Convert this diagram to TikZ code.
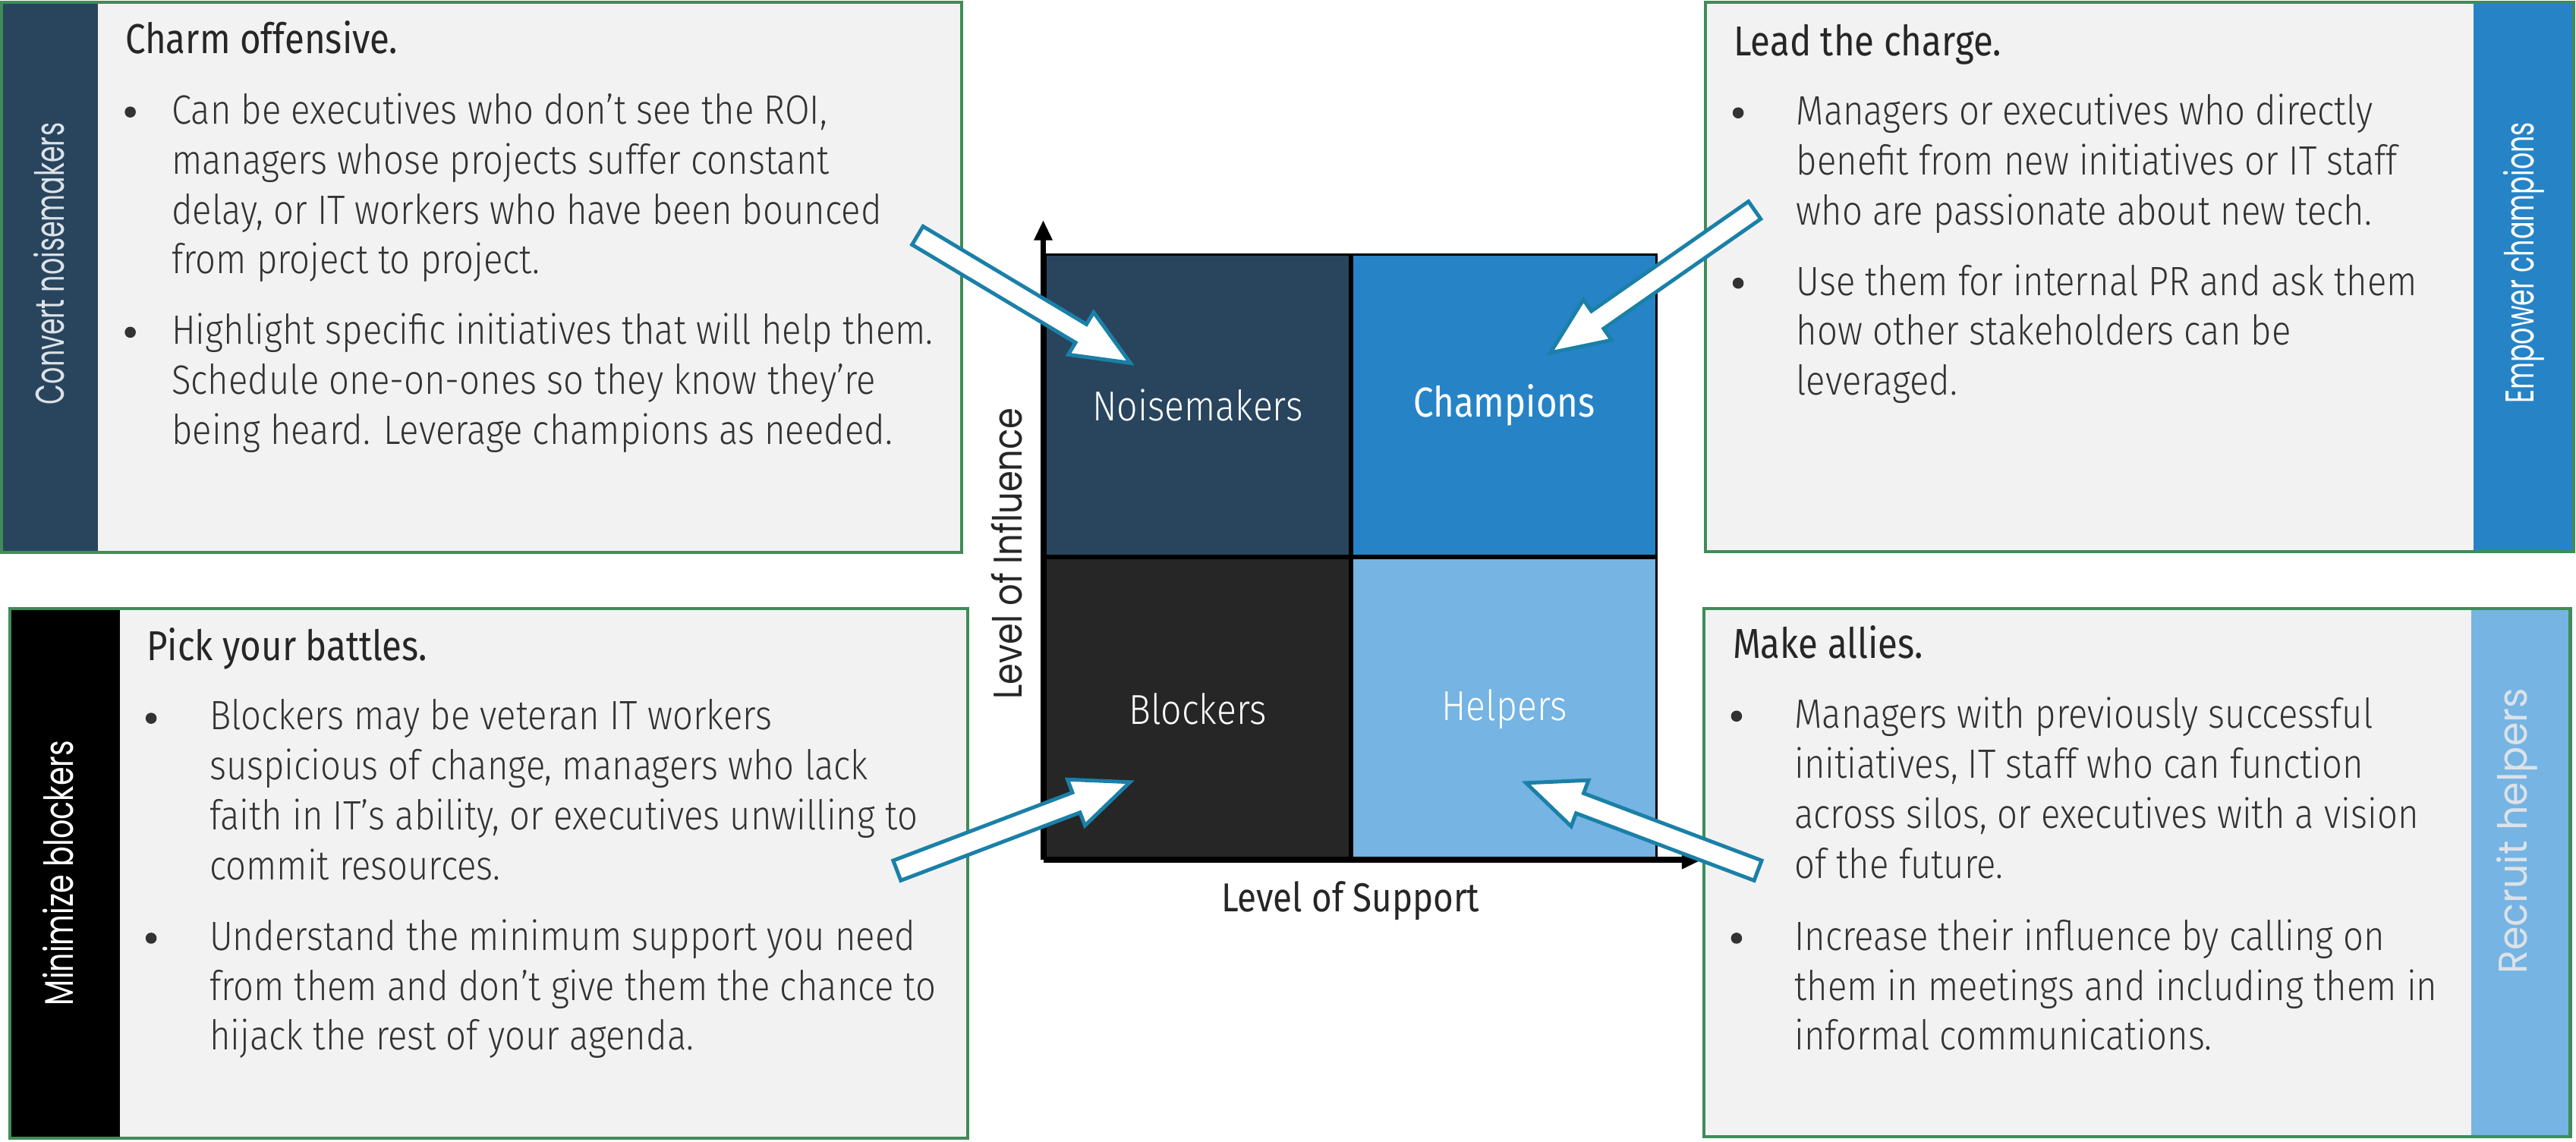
\documentclass[tikz,border=0pt]{standalone}
\usepackage{fontspec}
\usetikzlibrary{positioning,calc,arrows.meta}

\newfontfamily\bodyfont{Fira Sans}[UprightFont=* Light, FakeStretch=0.875]
\newfontfamily\headfont{Fira Sans}[FakeStretch=0.86]
\newfontfamily\stripfont{Poppins}[FakeStretch=0.75]

\definecolor{noiseBlue}{HTML}{29455E}
\definecolor{champBlue}{HTML}{2683C6}
\definecolor{blockGrey}{HTML}{262626}
\definecolor{helpBlue}{HTML}{75B4E3}
\definecolor{cardFill}{HTML}{F2F2F2}
\definecolor{cardLine}{HTML}{3F8C58}
\definecolor{arrowLine}{HTML}{1A80A8}
\definecolor{bodyText}{HTML}{333333}
\definecolor{paleText}{HTML}{DCE2E8}

% block arrow from a tail coordinate to a tip coordinate
\newcommand\pointerArrow[2]{%
  \coordinate (#1Base) at ($(#2)!0.7cm!(#1)$);
  \draw[pointer] ($(#1)!0.13cm!90:(#2)$) -- ($(#1Base)!0.13cm!90:(#2)$)
    -- ($(#1Base)!0.3cm!90:(#2)$) -- (#2) -- ($(#1Base)!0.3cm!-90:(#2)$)
    -- ($(#1Base)!0.13cm!-90:(#2)$) -- ($(#1)!0.13cm!-90:(#2)$) -- cycle;}

\begin{document}
\begin{tikzpicture}[x=0.02cm, y=-0.02cm,
    title/.style={anchor=base west, inner sep=0, font=\headfont\fontsize{14.5}{17}\selectfont, text=blockGrey},
    item/.style={anchor=north west, yshift=11.3pt, inner sep=0, align=left, execute at begin node=\strut,
      font=\bodyfont\fontsize{14.2}{17.3}\selectfont, text=bodyText},
    dot/.style={circle, fill=bodyText, inner sep=0, minimum size=0.135cm, yshift=4.6pt},
    stripLabel/.style={rotate=90, inner sep=0, font=\stripfont\fontsize{13.9}{16}\selectfont},
    quad/.style={draw=black, line width=0.8pt, minimum width=3.705cm, minimum height=3.675cm, inner sep=0,
      text=white, font=\bodyfont\fontsize{14.5}{17}\selectfont},
    pointer/.style={fill=white, draw=arrowLine, line width=1.3pt, line join=miter},
    axis/.style={line width=2pt, -{Triangle[length=7pt,width=6pt]}}
  ]
\useasboundingbox (0,0) rectangle (1568,695);

% cards
\fill[cardFill] (1,1.5) rectangle (585.5,336.5);
\fill[noiseBlue] (1,1.5) rectangle (59.6,336.5);
\draw[cardLine, line width=1.1pt] (1,1.5) rectangle (585.5,336.5);

\fill[cardFill] (1038,1.5) rectangle (1566.5,336);
\fill[champBlue] (1505.5,1.5) rectangle (1566.5,336);
\draw[cardLine, line width=1.1pt] (1038,1.5) rectangle (1566.5,336);

\fill[cardFill] (6,370.5) rectangle (589,693);
\fill[black] (6,370.5) rectangle (73,693);
\draw[cardLine, line width=1.1pt] (6,370.5) rectangle (589,693);

\fill[cardFill] (1037,370.5) rectangle (1564.5,692);
\fill[helpBlue] (1504,370.5) rectangle (1564.5,692);
\draw[cardLine, line width=1.1pt] (1037,370.5) rectangle (1564.5,692);

% strip labels
\node[stripLabel, text=paleText] (convertLbl) at (30,160.5) {\scalebox{0.88}[1]{Convert noisemakers}};
\node[stripLabel, text=white] (empowerLbl) at (1536,160) {\scalebox{0.88}[1]{Empower champions}};
\node[stripLabel, text=white] (minimizeLbl) at (35.5,531.5) {Minimize blockers};
\node[stripLabel, text=paleText] (recruitLbl) at (1532,506) {\scalebox{1.28}[1]{Recruit helpers}};

% top left card
\node[title] (charmTtl) at (75.9,32.7) {Charm offensive.};
\node[dot] (charmDotA) at (79.3,76.3) {};
\node[item] (charmA) at (104.2,76.3) {Can be executives who don’t see the ROI,\\managers whose projects suffer constant\\delay, or IT workers who have been bounced\\from project to project.};
\node[dot] (charmDotB) at (79.3,210.4) {};
\node[item] (charmB) at (104.2,210.4) {Highlight specific initiatives that will help them.\\Schedule one-on-ones so they know they’re\\being heard. Leverage champions as needed.};

% top right card
\node[title] (leadTtl) at (1055,33.8) {Lead the charge.};
\node[dot] (leadDotA) at (1058,76.8) {};
\node[item] (leadA) at (1093,76.8) {Managers or executives who directly\\benefit from new initiatives or IT staff\\who are passionate about new tech.};
\node[dot] (leadDotB) at (1058,180.5) {};
\node[item] (leadB) at (1093,180.5) {Use them for internal PR and ask them\\how other stakeholders can be\\leveraged.};

% bottom left card
\node[title] (pickTtl) at (88.9,402) {Pick your battles.};
\node[dot] (pickDotA) at (92,445.4) {};
\node[item] (pickA) at (127.2,445.4) {Blockers may be veteran IT workers\\suspicious of change, managers who lack\\faith in IT’s ability, or executives unwilling to\\commit resources.};
\node[dot] (pickDotB) at (92,579.3) {};
\node[item] (pickB) at (127.2,579.3) {Understand the minimum support you need\\from them and don’t give them the chance to\\hijack the rest of your agenda.};

% bottom right card
\node[title] (allyTtl) at (1054.4,400.9) {Make allies.};
\node[dot] (allyDotA) at (1057,444.1) {};
\node[item] (allyA) at (1092,444.1) {Managers with previously successful\\initiatives, IT staff who can function\\across silos, or executives with a vision\\of the future.};
\node[dot] (allyDotB) at (1057,579.3) {};
\node[item] (allyB) at (1092,579.3) {Increase their influence by calling on\\them in meetings and including them in\\informal communications.};

% matrix
\node[quad, fill=noiseBlue] (noise) at (729,246.75) {Noisemakers};
\node[quad, fill=champBlue, right=0pt of noise, font=\headfont\fontsize{14.5}{17}\selectfont] (champ) {Champions};
\node[quad, fill=blockGrey, below=0pt of noise] (block) {Blockers};
\node[quad, fill=helpBlue, right=0pt of block] (help) {Helpers};

\coordinate (origin) at (635,523.5);
\coordinate (yTop) at (635,134);
\coordinate (xEnd) at (1036,523.5);
\draw[axis] (origin) -- (yTop);
\draw[axis] (origin) -- (xEnd);
\node[rotate=90, anchor=base, font=\stripfont\fontsize{13.9}{16}\selectfont, text=blockGrey] (influenceLbl) at (622,337) {\scalebox{1.13}[1]{Level of Influence}};
\node[anchor=base, font=\headfont\fontsize{14}{17}\selectfont, text=blockGrey] (supportLbl) at (822,555) {Level of Support};

% arrows
\coordinate (noiseTail) at (558.5,143.4);
\coordinate (noiseTip) at (688,221);
\coordinate (champTail) at (1068,128);
\coordinate (champTip) at (943.7,214.8);
\coordinate (blockTail) at (546,530);
\coordinate (blockTip) at (687.8,476.2);
\coordinate (helpTail) at (1070,530);
\coordinate (helpTip) at (928.9,476.7);
\pointerArrow{noiseTail}{noiseTip}
\pointerArrow{champTail}{champTip}
\pointerArrow{blockTail}{blockTip}
\pointerArrow{helpTail}{helpTip}
\end{tikzpicture}
\end{document}
